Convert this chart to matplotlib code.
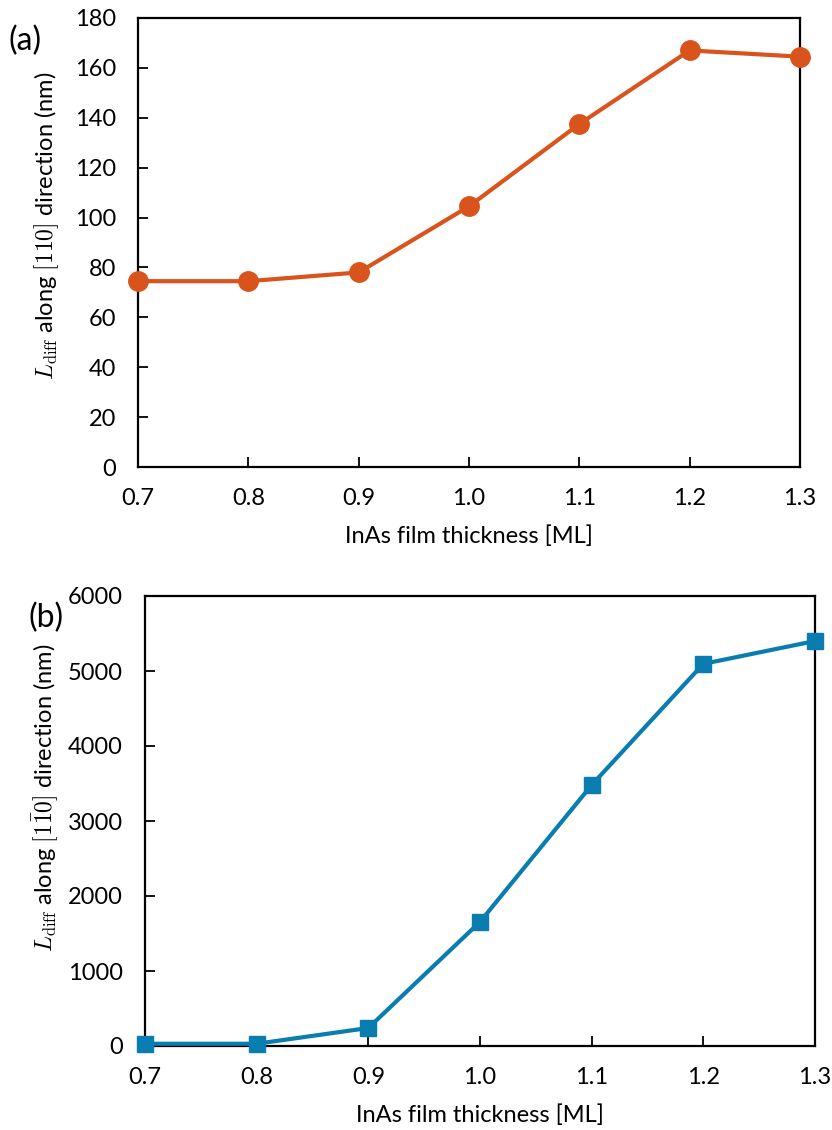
import matplotlib
matplotlib.use("Agg")
import matplotlib.pyplot as plt

# InAs film thickness (ML)
thickness = [0.7, 0.8, 0.9, 1.0, 1.1, 1.2, 1.3]
# diffusion length along [110] (nm)
ldiff_110 = [74.5, 74.5, 78.0, 104.5, 137.5, 167.0, 164.5]
# diffusion length along [1-10] (nm)
ldiff_1m10 = [30, 30, 240, 1655, 3480, 5095, 5400]

plt.rcParams['font.family'] = ['Lato', 'DejaVu Sans']
plt.rcParams['mathtext.fontset'] = 'cm'

FS = 17
orange = '#D9541C'
blue = '#0A7DB0'

fig = plt.figure(figsize=(8.32, 11.3), dpi=100)
W, H = 832, 1130
ax1 = fig.add_axes([138 / W, 1 - 467 / H, (800 - 138) / W, (467 - 18) / H])
ax2 = fig.add_axes([145 / W, 1 - 1046 / H, (815 - 145) / W, (1046 - 596) / H])


def style(ax, ymax, ystep):
    ax.set_xlim(0.7, 1.3)
    ax.set_ylim(0, ymax)
    ax.set_xticks(thickness)
    ax.set_xticklabels([f"{t:.1f}" for t in thickness])
    ax.set_yticks(range(0, ymax + 1, ystep))
    ax.tick_params(direction='in', length=7, width=1.3, labelsize=FS)
    ax.tick_params(axis='x', pad=15)
    ax.tick_params(axis='y', pad=16)
    for sp in ax.spines.values():
        sp.set_linewidth(1.6)
    ax.set_xlabel("InAs film thickness [ML]", fontsize=FS, labelpad=12)


ax1.plot(thickness, ldiff_110, color=orange, lw=3, marker='o', ms=14,
         clip_on=False, zorder=5)
style(ax1, 180, 20)
ax1.set_ylabel(r"$L_{\rm diff}$ along $[110]$ direction (nm)", fontsize=FS)
ax1.yaxis.set_label_coords(-0.116, 0.538)
fig.text(8 / W, 1 - 50 / H, "(a)", fontsize=23)

ax2.plot(thickness, ldiff_1m10, color=blue, lw=3, marker='s', ms=11.5,
         clip_on=False, zorder=5)
style(ax2, 6000, 1000)
ax2.set_ylabel(r"$L_{\rm diff}$ along $[1\bar{1}0]$ direction (nm)", fontsize=FS)
ax2.yaxis.set_label_coords(-0.125, 0.551)
fig.text(28 / W, 1 - 627 / H, "(b)", fontsize=23)

fig.savefig("out.png", dpi=100)
